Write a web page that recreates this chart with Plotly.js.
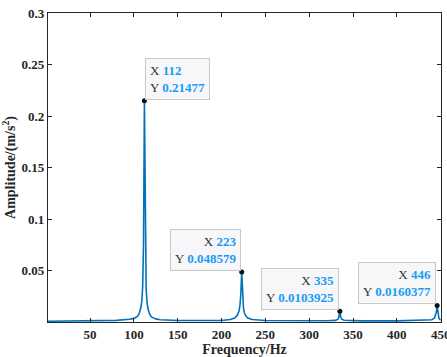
<!DOCTYPE html>
<html>
<head>
<meta charset="utf-8">
<script src="https://cdn.plot.ly/plotly-3.0.1.min.js"></script>
<style>html,body{margin:0;padding:0;background:#fff;}#chart{width:447px;height:357px;overflow:hidden;}</style>
</head>
<body>
<div id="chart"></div>
<script>
// Spectrum
var freq = [2, 20, 50, 80, 95, 100, 104, 106, 108, 109, 110, 111, 112, 113, 114, 115, 116, 118, 120, 125, 130, 150, 180, 200, 210, 215, 218, 220, 221, 222, 223, 224, 225, 226, 228, 230, 235, 250, 300, 320, 330, 333, 334, 335, 336, 337, 340, 360, 400, 430, 440, 443, 444, 445, 446, 447, 448, 449, 450];
var amp = [0.0008, 0.0009, 0.0011, 0.0016, 0.0026, 0.0035, 0.0055, 0.008, 0.014, 0.02, 0.034, 0.075, 0.21477, 0.07, 0.032, 0.019, 0.013, 0.0075, 0.005, 0.003, 0.0022, 0.0014, 0.0012, 0.0015, 0.0024, 0.0038, 0.0065, 0.011, 0.016, 0.027, 0.048579, 0.025, 0.014, 0.009, 0.0055, 0.0038, 0.0024, 0.0015, 0.0011, 0.0012, 0.0016, 0.0028, 0.0055, 0.0103925, 0.0048, 0.0028, 0.0017, 0.0011, 0.0011, 0.0014, 0.0022, 0.0038, 0.006, 0.0095, 0.0160377, 0.0075, 0.0038, 0.0024, 0.0018];

// Data tips
var tipX = [112, 223, 335, 446];
var tipY = [0.21477, 0.048579, 0.0103925, 0.0160377];
var tipYLabel = ['0.21477', '0.048579', '0.0103925', '0.0160377'];
var tipSide = ['right', 'left', 'left', 'left'];

var xTicks = [50, 100, 150, 200, 250, 300, 350, 400, 450];
var yTicks = [0.05, 0.1, 0.15, 0.2, 0.25, 0.3];
var yTickText = ['0.05', '0.1', '0.15', '0.2', '0.25', '0.3'];

var blue = '#0072BD';
var tipBlue = '#1a9cf5';

var traces = [
  {x: freq, y: amp, type: 'scatter', mode: 'lines', line: {color: blue, width: 1.6}, hoverinfo: 'none'},
  {x: tipX, y: tipY, type: 'scatter', mode: 'markers', marker: {color: '#111', size: 5}, hoverinfo: 'none'}
];

var annotations = tipX.map(function (xv, i) {
  var right = tipSide[i] === 'right';
  return {
    x: xv, y: tipY[i], xref: 'x', yref: 'y',
    showarrow: false,
    xanchor: right ? 'left' : 'right',
    yanchor: 'bottom',
    xshift: right ? 1 : -1,
    yshift: 1,
    align: right ? 'left' : 'right',
    text: 'X <b><span style="color:' + tipBlue + '">' + xv + '</span></b><br>Y <b><span style="color:' + tipBlue + '">' + tipYLabel[i] + '</span></b>',
    font: {family: 'Liberation Serif, Times New Roman, serif', size: 13, color: '#333'},
    bgcolor: '#f7f7fa',
    bordercolor: '#c8c8c8',
    borderwidth: 1,
    borderpad: 4
  };
});

var layout = {
  width: 447, height: 357,
  margin: {l: 48, r: 6, t: 13, b: 35},
  paper_bgcolor: '#ffffff',
  plot_bgcolor: '#ffffff',
  showlegend: false,
  font: {family: 'Liberation Serif, Times New Roman, serif', size: 13, color: '#262626'},
  xaxis: {
    range: [2, 450.4], tickvals: xTicks, ticktext: xTicks.map(String),
    ticks: 'inside', ticklen: 4, tickwidth: 1, tickcolor: '#262626',
    showline: true, linecolor: '#262626', linewidth: 1.2, mirror: 'ticks',
    showgrid: false, zeroline: false, automargin: false, ticklabeloverflow: 'allow',
    tickfont: {family: 'Liberation Serif, serif', size: 13, color: '#262626', weight: 'bold'},
    title: {text: '<b>Frequency/Hz</b>', font: {family: 'Liberation Serif, serif', size: 14, color: '#262626'}, standoff: 4}
  },
  yaxis: {
    range: [0, 0.3], tickvals: yTicks, ticktext: yTickText,
    ticks: 'inside', ticklen: 4, tickwidth: 1, tickcolor: '#262626',
    showline: true, linecolor: '#262626', linewidth: 1.2, mirror: 'ticks',
    showgrid: false, zeroline: false,
    tickfont: {family: 'Liberation Serif, serif', size: 13, color: '#262626', weight: 'bold'},
    title: {text: '<b>Amplitude/(m/s<sup>2</sup>)</b>', font: {family: 'Liberation Serif, serif', size: 14, color: '#262626'}, standoff: 6}
  },
  annotations: annotations
};

Plotly.newPlot('chart', traces, layout, {displayModeBar: false, staticPlot: true});
</script>
</body>
</html>
